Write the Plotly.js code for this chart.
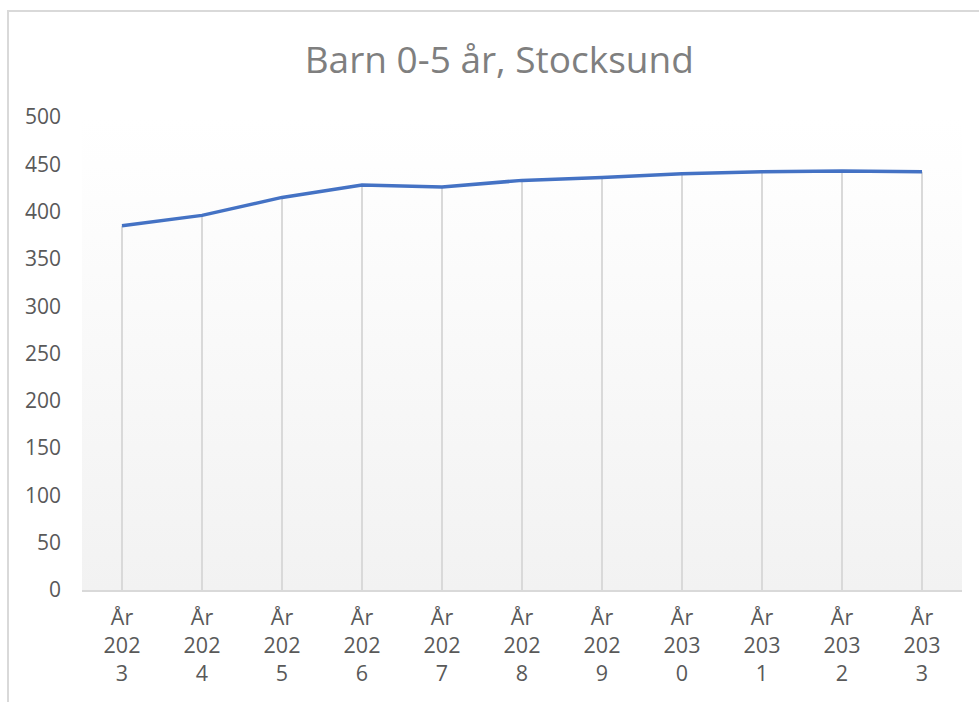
<!DOCTYPE html>
<html>
<head>
<meta charset="utf-8">
<script src="https://cdn.plot.ly/plotly-3.0.1.min.js"></script>
<style>
html,body{margin:0;padding:0;width:979px;height:702px;overflow:hidden;background:#fff;}
#chart{position:absolute;left:0;top:0;width:979px;height:702px;}
#frame{position:absolute;left:7px;top:10px;width:1100px;height:800px;border:2px solid #d9d9d9;pointer-events:none;}
</style>
</head>
<body>
<div id="chart"></div>
<div id="frame"></div>
<script>
var years = ["2023","2024","2025","2026","2027","2028","2029","2030","2031","2032","2033"];
var categories = years.map(function(y){ return "År<br>" + y.slice(0,3) + "<br>" + y.slice(3); });
var values = [385, 396, 415, 428, 426, 433, 436, 440, 442, 443, 442];
var yTicks = [0, 50, 100, 150, 200, 250, 300, 350, 400, 450, 500];
var titleText = "Barn 0-5 år, Stocksund";

var zeros = values.map(function(){ return 0; });

var gradSvg = '<svg xmlns="http://www.w3.org/2000/svg" width="100" height="100" preserveAspectRatio="none">' +
  '<defs><linearGradient id="g" x1="0" y1="0" x2="0" y2="1">' +
  '<stop offset="0" stop-color="#ffffff"/><stop offset="0.1" stop-color="#fefefe"/><stop offset="1" stop-color="#f2f2f2"/>' +
  '</linearGradient></defs><rect width="100" height="100" fill="url(#g)"/></svg>';
var gradSrc = "data:image/svg+xml;charset=utf-8," + encodeURIComponent(gradSvg);

var drops = {
  x: categories, y: values, type: "scatter", mode: "markers",
  marker: {size: 1, opacity: 0},
  error_y: {type: "data", symmetric: false, array: zeros, arrayminus: values,
            color: "#d9d9d9", thickness: 2, width: 0},
  hoverinfo: "skip", showlegend: false
};
var line = {
  x: categories, y: values, type: "scatter", mode: "lines",
  line: {color: "#4472C4", width: 3.5},
  showlegend: false
};

var layout = {
  width: 979, height: 702,
  margin: {l: 82, r: 17, t: 117, b: 112, pad: 0},
  paper_bgcolor: "#ffffff",
  plot_bgcolor: "rgba(0,0,0,0)",
  title: {text: titleText, x: 0.51, xanchor: "center", y: 0.915, yanchor: "middle",
          font: {family: "Open Sans", size: 37, color: "#7f7f7f"}},
  xaxis: {
    type: "category", range: [-0.5, 10.5], showgrid: false, zeroline: false,
    showline: true, linecolor: "#d9d9d9", linewidth: 2,
    ticks: "", ticklabelstandoff: 7,
    tickfont: {family: "Open Sans", size: 21.5, color: "#595959"}
  },
  yaxis: {
    range: [0, 500], tickvals: yTicks, ticktext: yTicks.map(String),
    showgrid: false, zeroline: false, showline: false, ticks: "",
    ticklabelstandoff: 20,
    tickfont: {family: "Open Sans", size: 21, color: "#595959"}
  },
  images: [{source: gradSrc, xref: "paper", yref: "paper", x: 0, y: 1,
            sizex: 1, sizey: 1, xanchor: "left", yanchor: "top",
            sizing: "stretch", layer: "below"}]
};

Plotly.newPlot("chart", [drops, line], layout, {displayModeBar: false, staticPlot: true});
</script>
</body>
</html>
